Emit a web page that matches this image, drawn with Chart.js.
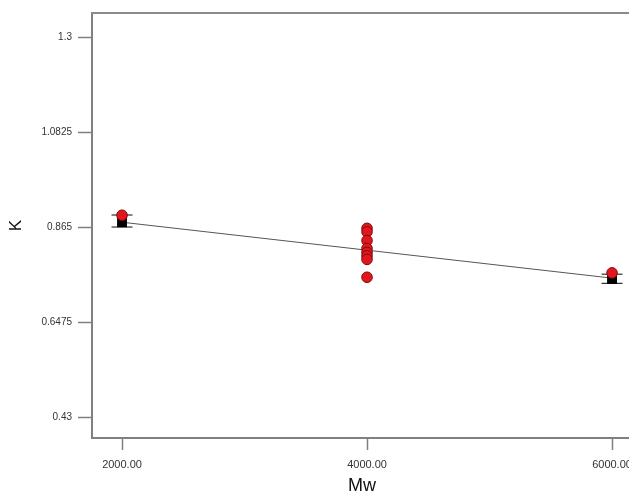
<!DOCTYPE html>
<html><head><meta charset="utf-8">
<script src="https://cdn.jsdelivr.net/npm/chart.js@4/dist/chart.umd.min.js"></script>
<style>html,body{margin:0;padding:0;background:#fff;overflow:hidden}</style>
</head><body><canvas id="c" width="645" height="498"></canvas>
<script>
const xTicks = [2000, 4000, 6000];
const yTicks = [0.43, 0.6475, 0.865, 1.0825, 1.3];
const actualX = [2000, 4000, 4000, 4000, 4000, 4000, 4000, 4000, 4000, 6000];
const actualK = [0.892, 0.862, 0.854, 0.834, 0.816, 0.807, 0.799, 0.791, 0.750, 0.760];
const predX = [2000, 6000];
const predK = [0.876, 0.746];
const capX = [2000, 2000, 6000, 6000];
const capK = [0.8925, 0.865, 0.757, 0.736];
const lineX = [2000, 6000];
const lineK = [0.876, 0.748];

const pts = (xs, ys) => xs.map((x, i) => ({x, y: ys[i]}));

const frame = {
  id: 'frame',
  afterDraw(chart) {
    const a = chart.chartArea, ctx = chart.ctx;
    ctx.save();
    ctx.strokeStyle = '#8a8a8a';
    ctx.lineWidth = 2;
    ctx.beginPath();
    ctx.moveTo(a.left - 1, a.top);
    ctx.lineTo(a.right, a.top);
    ctx.lineTo(a.right, a.bottom);
    ctx.stroke();
    ctx.restore();
  }
};

new Chart(document.getElementById('c'), {
  type: 'scatter',
  data: {
    datasets: [
      {label: 'Actual', data: pts(actualX, actualK), pointStyle: 'circle', pointRadius: 5.3,
       backgroundColor: '#e3161e', borderColor: '#7a0c0c', borderWidth: 1, order: 0},
      {label: 'Predicted', data: pts(predX, predK), pointStyle: 'rect', pointRadius: 7,
       backgroundColor: '#000', borderColor: '#000', borderWidth: 0, order: 1},
      {label: 'CI', data: pts(capX, capK), pointStyle: 'line', pointRadius: 10.5,
       borderColor: '#333', borderWidth: 1.2, order: 2},
      {type: 'line', label: 'Fit', data: pts(lineX, lineK), borderColor: '#555',
       borderWidth: 1, pointRadius: 0, order: 3}
    ]
  },
  options: {
    responsive: false,
    devicePixelRatio: 1,
    animation: false,
    layout: {padding: {top: 13, right: 13, left: 0, bottom: 0}},
    plugins: {legend: {display: false}, tooltip: {enabled: false}},
    scales: {
      x: {
        type: 'linear', min: 1755, max: 6163,
        afterFit(s) { s.height = 60; },
        afterBuildTicks(s) { s.ticks = xTicks.map(v => ({value: v})); },
        ticks: {callback: v => v.toFixed(2), color: '#333', font: {family: 'Liberation Sans', size: 11}, padding: 8, maxRotation: 0},
        grid: {drawOnChartArea: false, drawTicks: true, tickLength: 12, color: '#808080', tickWidth: 1.5},
        border: {display: true, color: '#808080', width: 2},
        title: {display: true, text: 'Mw', color: '#111', font: {family: 'Liberation Sans', size: 18}, padding: {top: 0, bottom: 1}}
      },
      y: {
        type: 'linear', min: 0.382, max: 1.355,
        afterFit(s) { s.width = 92; },
        afterBuildTicks(s) { s.ticks = yTicks.map(v => ({value: v})); },
        ticks: {callback: v => String(v), color: '#333', font: {family: 'Liberation Sans', size: 10}, padding: 6},
        grid: {drawOnChartArea: false, drawTicks: true, tickLength: 14, color: '#808080', tickWidth: 1.5},
        border: {display: true, color: '#808080', width: 2},
        title: {display: true, text: 'K', color: '#111', font: {family: 'Liberation Sans', size: 17}, padding: {top: 6, bottom: 0}}
      }
    }
  },
  plugins: [frame]
});
</script></body></html>
